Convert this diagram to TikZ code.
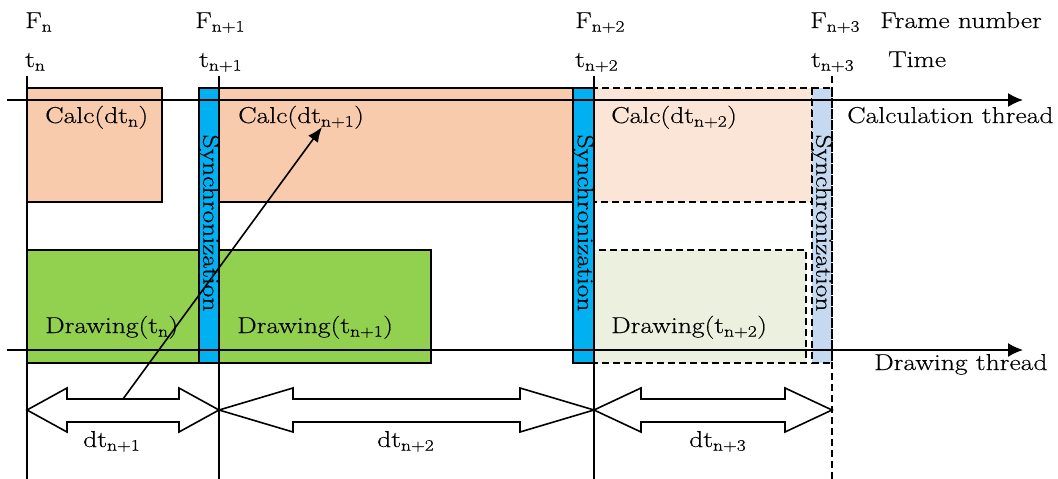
\documentclass[tikz,border=0pt]{standalone}
\usepackage{fontspec}
\setmainfont{Latin Modern Roman}[FakeStretch=1.2, FakeBold=0.4]
\usetikzlibrary{arrows.meta}

\definecolor{calcfill}{HTML}{F8CBAD}
\definecolor{calcpale}{HTML}{FBE5D6}
\definecolor{drawfill}{HTML}{92D050}
\definecolor{drawpale}{HTML}{EBF1DE}
\definecolor{syncfill}{HTML}{00B0F0}
\definecolor{syncpale}{HTML}{C5D9F1}

\tikzset{
  lw/.style={line width=1.6pt},
  dashline/.style={lw, dash pattern=on 7pt off 4pt},
  txt/.style={inner sep=0pt, font=\fontsize{23}{28}\selectfont},
  synctext/.style={txt, rotate=-90},
  thread/.style={lw, -{Latex[length=15pt,width=14pt]}},
  hollow/.style={lw, fill=white, line join=miter},
}

% hollow double arrow: left tip x, right tip x, head length
\newcommand\hollowdbl[3]{%
  \draw[hollow] (#1,410) -- ({#1+#3},388) -- ({#1+#3},399) -- ({#2-#3},399)
    -- ({#2-#3},388) -- (#2,410) -- ({#2-#3},432) -- ({#2-#3},422)
    -- ({#1+#3},422) -- ({#1+#3},432) -- cycle;}

\begin{document}
\begin{tikzpicture}[x=1pt, y=-1pt]
\useasboundingbox (0,0) rectangle (1058,479);

% calculation thread boxes
\draw[lw, fill=calcfill] (27,88) rectangle (162,202);
\draw[lw, fill=calcfill] (219,88) rectangle (573,202);
\draw[dashline, fill=calcpale] (594,88) rectangle (812,202);

% drawing thread boxes
\draw[lw, fill=drawfill] (27,250) rectangle (199,363);
\draw[lw, fill=drawfill] (219,250) rectangle (431,363);
\draw[dashline, fill=drawpale] (594,250) rectangle (806,363);

% synchronization bars
\draw[lw, fill=syncfill] (199,88) rectangle (219,363);
\draw[lw, fill=syncfill] (573,88) rectangle (594,363);
\draw[dashline, fill=syncpale] (812,88) rectangle (832,363);
\node[synctext] (s1) at (209,223) {Synchronization};
\node[synctext] (s2) at (583.5,223) {Synchronization};
\node[synctext] (s3) at (822,223) {Synchronization};

% thread axes
\coordinate (ca) at (7,100);   \coordinate (cb) at (1023,100);
\coordinate (da) at (7,350);   \coordinate (db) at (1023,350);
\draw[thread] (ca) -- (cb);
\draw[thread] (da) -- (db);

% frame time lines
\coordinate (t0a) at (27,76);   \coordinate (t0b) at (27,479);
\coordinate (t1a) at (219,76);  \coordinate (t1b) at (219,479);
\coordinate (t2a) at (594,76);  \coordinate (t2b) at (594,479);
\coordinate (t3a) at (832,76);  \coordinate (t3b) at (832,479);
\draw[lw] (t0a) -- (t0b);
\draw[lw] (t1a) -- (t1b);
\draw[lw] (t2a) -- (t2b);
\draw[dashline] (t3a) -- (t3b);

% frame intervals
\hollowdbl{27}{219}{40}
\hollowdbl{219}{594}{74}
\hollowdbl{594}{832}{47}

% header labels
\node[txt, anchor=base west] (f0) at (25,28) {F\textsubscript{n}};
\node[txt, anchor=base west] (f1) at (195,28) {F\textsubscript{n+1}};
\node[txt, anchor=base west] (f2) at (575,28) {F\textsubscript{n+2}};
\node[txt, anchor=base west] (f3) at (810,28) {F\textsubscript{n+3}};
\node[txt, anchor=base west] (fn) at (880,28) {Frame number};
\node[txt, anchor=base west] (tt0) at (25,67) {t\textsubscript{n}};
\node[txt, anchor=base west] (tt1) at (199,67) {t\textsubscript{n+1}};
\node[txt, anchor=base west] (tt2) at (575,67) {t\textsubscript{n+2}};
\node[txt, anchor=base west] (tt3) at (811,67) {t\textsubscript{n+3}};
\node[txt, anchor=base west] (tm) at (888,67) {Time};

% box labels
\node[txt, anchor=base west] (c0) at (45,123) {Calc(dt\textsubscript{n})};
\node[txt, anchor=base west] (c1) at (238,123) {Calc(dt\textsubscript{n+1})};
\node[txt, anchor=base west] (c2) at (611,123) {Calc(dt\textsubscript{n+2})};
\node[txt, anchor=base west] (d0) at (45,333) {Drawing(t\textsubscript{n})};
\node[txt, anchor=base west] (d1) at (237,333) {Drawing(t\textsubscript{n+1})};
\node[txt, anchor=base west] (d2) at (611,333) {Drawing(t\textsubscript{n+2})};
\node[txt, anchor=base west] (ct) at (847,123) {Calculation thread};
\node[txt, anchor=base west] (dt) at (874,370) {Drawing thread};

% interval labels
\node[txt, anchor=base west] (i1) at (83,447) {dt\textsubscript{n+1}};
\node[txt, anchor=base west] (i2) at (377,447) {dt\textsubscript{n+2}};
\node[txt, anchor=base west] (i3) at (689,447) {dt\textsubscript{n+3}};

% dependency arrow
\coordinate (ga) at (123,399);
\coordinate (gb) at (322,127);
\draw[lw, -{Latex[length=15pt,width=12pt]}] (ga) -- (gb);
\end{tikzpicture}
\end{document}
